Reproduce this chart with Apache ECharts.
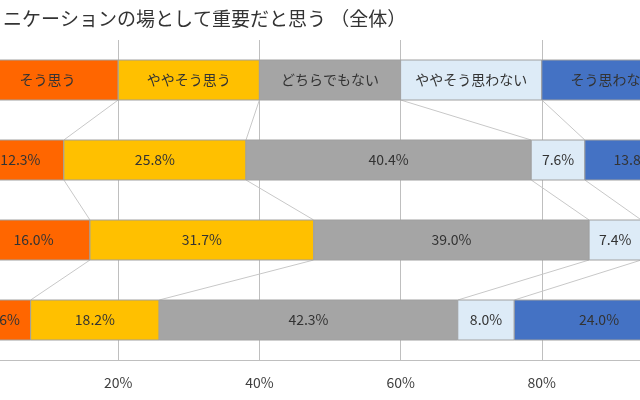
<!DOCTYPE html>
<html><head><meta charset="utf-8">
<script src="https://cdn.jsdelivr.net/npm/echarts@6/dist/echarts.min.js"></script>
<style>body{margin:0;background:#fff;overflow:hidden}#c{width:640px;height:400px}</style></head>
<body><div id="c"></div>
<script>
const title = 'ニケーションの場として重要だと思う （全体）';
const categories = ['そう思う','ややそう思う','どちらでもない','ややそう思わない','そう思わない'];
const headerValues = [20,20,20,20,20];
const row1 = [12.3,25.8,40.4,7.6,13.8];
const row2 = [16.0,31.7,39.0,7.4,5.9];
const row3 = [7.6,18.2,42.3,8.0,24.0];
const xTicks = [0,20,40,60,80,100];
const colors = ['#FF6600','#FFC000','#A5A5A5','#DDEBF7','#4472C4'];
const rows = [headerValues,row1,row2,row3];
const rowY = [7,5,3,1];
const H = 0.5;
const segs = [], conns = [];
rows.forEach((r,ri)=>{let s=0;r.forEach((v,ci)=>{segs.push([s,s+v,rowY[ri],ci,ri]);s+=v;});});
for(let ri=0;ri<3;ri++){let a=0,b=0;for(let ci=0;ci<4;ci++){a+=rows[ri][ci];b+=rows[ri+1][ci];conns.push([a,rowY[ri]-H,b,rowY[ri+1]+H]);}}
const chart = echarts.init(document.getElementById('c'));
chart.setOption({
  animation:false,
  title:{text:title,left:-2,top:4,textStyle:{fontFamily:'Noto Sans CJK JP',fontSize:19,fontWeight:'normal',color:'#333'}},
  grid:{left:-23,width:706,top:40,height:320,containLabel:false,outerBoundsMode:'none'},
  xAxis:{type:'value',min:0,max:100,interval:20,
    axisLine:{show:true,lineStyle:{color:'#BFBFBF'}},axisTick:{show:false},
    axisLabel:{formatter:v=>v+'%',color:'#404040',fontSize:14,margin:16,fontFamily:'Noto Sans CJK JP'},
    splitLine:{show:true,lineStyle:{color:'#BFBFBF',width:1}}},
  yAxis:{type:'value',min:0,max:8,show:false,splitLine:{show:false}},
  series:[
    {type:'custom',data:conns,z:1,clip:false,renderItem:(p,api)=>{
      const a=api.coord([api.value(0),api.value(1)]),b=api.coord([api.value(2),api.value(3)]);
      return {type:'line',shape:{x1:a[0],y1:a[1],x2:b[0],y2:b[1]},style:{stroke:'#C8C8C8',lineWidth:1}};}},
    {type:'custom',data:segs,z:2,renderItem:(p,api)=>{
      const s=api.value(0),e=api.value(1),y=api.value(2),ci=api.value(3),ri=api.value(4);
      const tl=api.coord([s,y+H]),br=api.coord([e,y-H]);
      const txt = ri===0?categories[ci]:(e-s).toFixed(1)+'%';
      return {type:'rect',shape:{x:tl[0],y:tl[1],width:br[0]-tl[0],height:br[1]-tl[1]},
        style:{fill:colors[ci],stroke:'#A0A0A0',lineWidth:1},
        textContent:{style:{text:txt,fill:'#333',fontSize:14,fontFamily:'Noto Sans CJK JP'}},
        textConfig:{position:'inside'}};}}
  ]
});
</script></body></html>
